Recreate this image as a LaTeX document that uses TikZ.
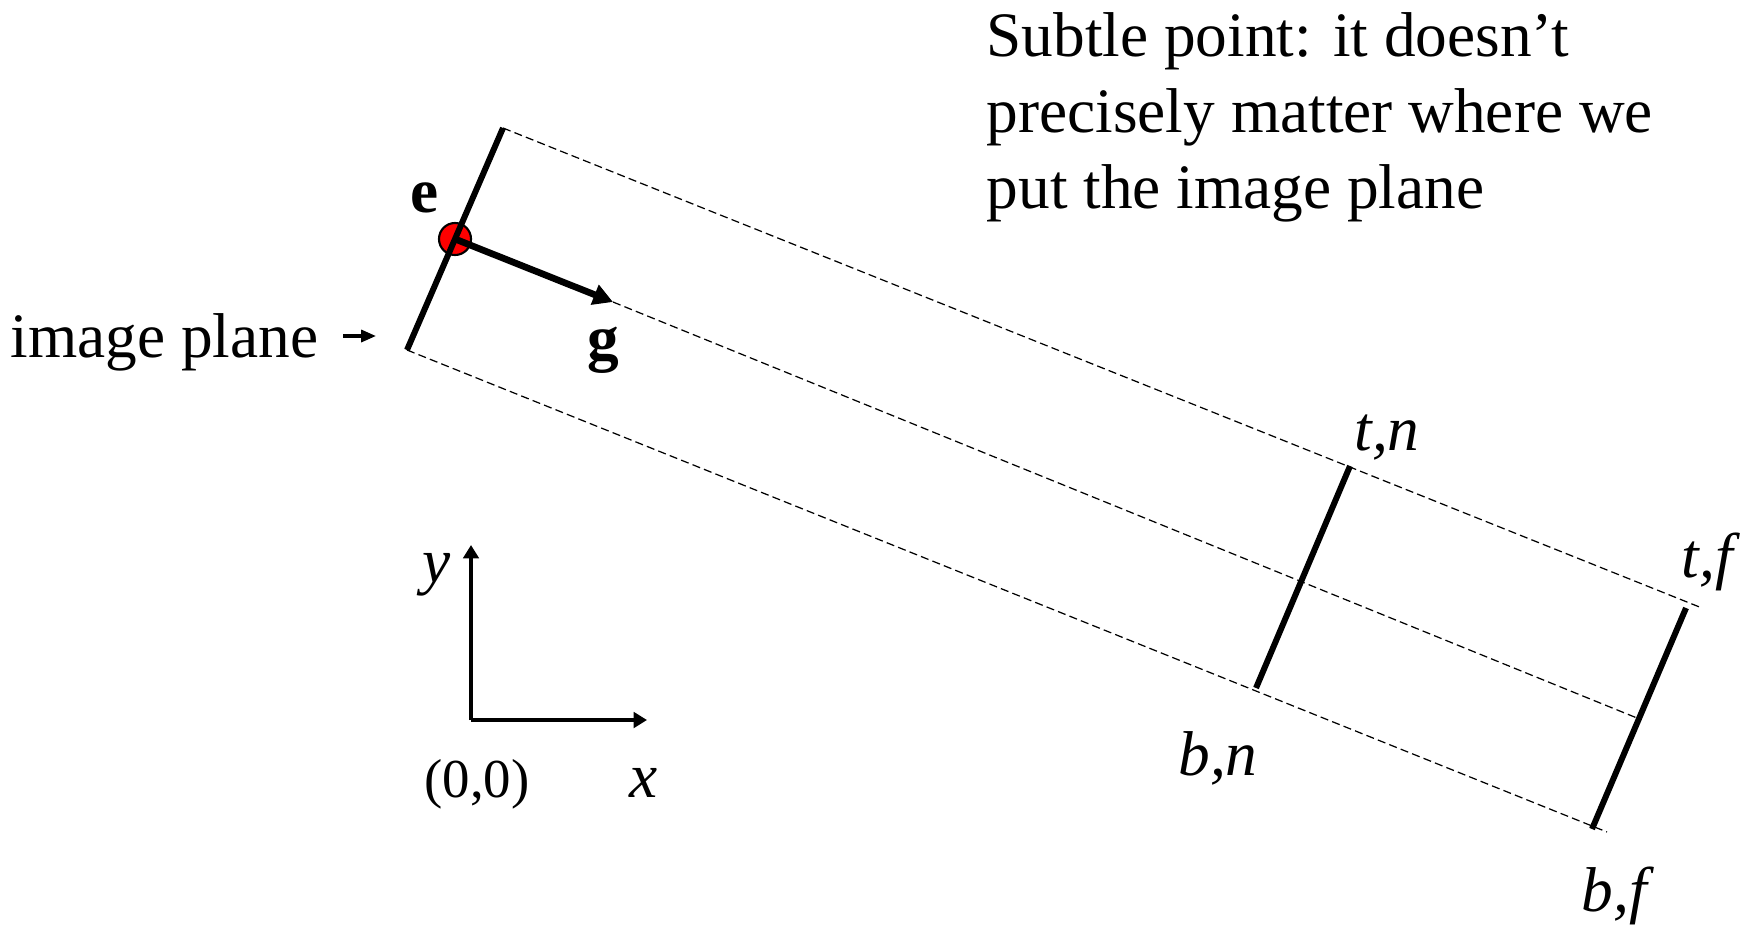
\documentclass[tikz,border=0pt]{standalone}
\usepackage{fontspec}
\setmainfont{Liberation Serif}
\usetikzlibrary{arrows.meta}

\begin{document}
\begin{tikzpicture}[
  x=0.01cm, y=-0.01cm,
  font=\fontsize{18}{21.6}\selectfont,
  plane/.style={line width=1.7pt},
  ray/.style={line width=0.35pt, dash pattern=on 2.3pt off 1.2pt},
  view/.style={line width=1.9pt, -{Triangle[length=5.6pt, width=5.8pt]}},
  axis/.style={line width=1.1pt, -{Triangle[length=3.8pt, width=4.4pt]}},
  pointer/.style={line width=0.9pt, -{Triangle[length=4.2pt, width=3.4pt]}},
  lbl/.style={inner sep=0pt, anchor=base},
  eyedot/.style={circle, draw, fill=red, line width=0.6pt, minimum size=0.32cm, inner sep=0pt}]
  \useasboundingbox (0,0) rectangle (1752,924);
  % camera and image plane
  \coordinate (ipt) at (503,128);
  \coordinate (ipb) at (407,350);
  \coordinate (gtip) at (613,302);
  \node[eyedot] (eye) at (455,239) {};
  % near and far planes
  \coordinate (tn) at (1350,466);
  \coordinate (bn) at (1256,688);
  \coordinate (tf) at (1686,608);
  \coordinate (bf) at (1592,829);
  \coordinate (mf) at (1637,718);
  \coordinate (tend) at (1702,608);
  \coordinate (bend) at (1607,832);
  \draw[ray] (ipt) -- (tend);
  \draw[ray] (ipb) -- (bend);
  \draw[ray] (gtip) -- (mf);
  \draw[plane] (ipt) -- (ipb);
  \draw[view] (eye.center) -- (gtip);
  \draw[plane] (tn) -- (bn);
  \draw[plane] (tf) -- (bf);
  \node[lbl] (elbl) at (425,212) {\textbf{e}};
  \node[lbl] (glbl) at (603,359) {\textbf{g}};
  \node[lbl] (tnlbl) at (1387,450) {\textit{t,n}};
  \node[lbl] (tflbl) at (1711,577) {\textit{t,f}};
  \node[lbl] (bnlbl) at (1218,775) {\textit{b,n}};
  \node[lbl] (bflbl) at (1618,911) {\textit{b,f}};
  % image plane label
  \node[lbl, anchor=base west] (iplbl) at (10,357) {image plane};
  \coordinate (ptail) at (343,336);
  \coordinate (phead) at (376,336);
  \draw[pointer] (ptail) -- (phead);
  % axes
  \coordinate (orig) at (471,720);
  \coordinate (ytip) at (471,545);
  \coordinate (xtip) at (647,720);
  \draw[axis] (orig) -- (ytip);
  \draw[axis] (orig) -- (xtip);
  \node[lbl] (ylbl) at (437,582) {\textit{y}};
  \node[lbl] (xlbl) at (644,797) {\textit{x}};
  \node[lbl, font=\fontsize{15.6}{18}\selectfont] (olbl) at (477,797) {(0,0)};
  % remark
  \node[inner sep=0pt, anchor=north west, align=left] (note) at (986,12)
    {Subtle point: it doesn’t\\ precisely matter where we\\ put the image plane};
\end{tikzpicture}
\end{document}
